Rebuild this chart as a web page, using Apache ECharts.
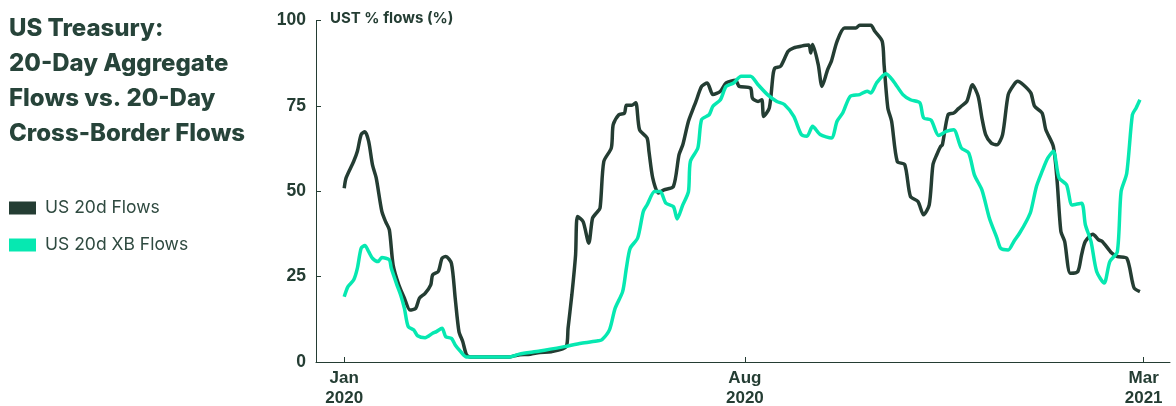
<!DOCTYPE html>
<html>
<head>
<meta charset="utf-8">
<script src="https://cdn.jsdelivr.net/npm/echarts@6/dist/echarts.min.js"></script>
<style>
  html, body { margin: 0; padding: 0; background: #fff; }
  #chart { width: 1176px; height: 406px; }
</style>
</head>
<body>
<div id="chart"></div>
<script>
// US 20d Flows
const flowDates = [
  '2020-01-01', '2020-01-02', '2020-01-06', '2020-01-08', '2020-01-10', '2020-01-12', '2020-01-14', '2020-01-16',
  '2020-01-18', '2020-01-21', '2020-01-23', '2020-01-25', '2020-01-27', '2020-01-30', '2020-02-02', '2020-02-05',
  '2020-02-08', '2020-02-10', '2020-02-13', '2020-02-16', '2020-02-17', '2020-02-20', '2020-02-22', '2020-02-24',
  '2020-02-27', '2020-02-29', '2020-03-02', '2020-03-04', '2020-03-06', '2020-03-08', '2020-03-29', '2020-04-02',
  '2020-04-09', '2020-04-14', '2020-04-20', '2020-04-28', '2020-04-29', '2020-05-01', '2020-05-03', '2020-05-04',
  '2020-05-07', '2020-05-10', '2020-05-12', '2020-05-14', '2020-05-16', '2020-05-18', '2020-05-22', '2020-05-23',
  '2020-05-26', '2020-05-29', '2020-05-30', '2020-06-02', '2020-06-04', '2020-06-06', '2020-06-10', '2020-06-11',
  '2020-06-13', '2020-06-16', '2020-06-19', '2020-06-24', '2020-06-27', '2020-06-29', '2020-07-02', '2020-07-05',
  '2020-07-06', '2020-07-09', '2020-07-12', '2020-07-15', '2020-07-19', '2020-07-22', '2020-07-27', '2020-07-29',
  '2020-08-04', '2020-08-05', '2020-08-08', '2020-08-10', '2020-08-11', '2020-08-14', '2020-08-16', '2020-08-17',
  '2020-08-20', '2020-08-24', '2020-08-27', '2020-08-31', '2020-09-04', '2020-09-05', '2020-09-06', '2020-09-09',
  '2020-09-11', '2020-09-14', '2020-09-16', '2020-09-19', '2020-09-23', '2020-09-29', '2020-10-01', '2020-10-07',
  '2020-10-09', '2020-10-13', '2020-10-14', '2020-10-16', '2020-10-18', '2020-10-21', '2020-10-25', '2020-10-28',
  '2020-11-01', '2020-11-04', '2020-11-07', '2020-11-09', '2020-11-11', '2020-11-13', '2020-11-14', '2020-11-17',
  '2020-11-20', '2020-11-22', '2020-11-24', '2020-11-27', '2020-11-30', '2020-12-03', '2020-12-05', '2020-12-07',
  '2020-12-10', '2020-12-13', '2020-12-16', '2020-12-19', '2020-12-22', '2020-12-24', '2020-12-27', '2020-12-31',
  '2021-01-02', '2021-01-06', '2021-01-08', '2021-01-12', '2021-01-14', '2021-01-16', '2021-01-18', '2021-01-21',
  '2021-01-25', '2021-01-27', '2021-01-29', '2021-02-02', '2021-02-05', '2021-02-07', '2021-02-12', '2021-02-15',
  '2021-02-20', '2021-02-23', '2021-02-24', '2021-02-27'
]
const flowValues = [
  50.9, 53.9, 58.7, 61.7, 66.6, 67.4, 64.6, 57.8,
  53.9, 44.1, 41.1, 38.7, 28.4, 22.6, 18.7, 15.2,
  15.7, 18.7, 20.1, 22.6, 25.5, 26.5, 30.4, 30.9,
  28.9, 18.7, 8.9, 6.0, 2.1, 1.5, 1.5, 2.0,
  2.3, 2.8, 3.0, 4.5, 9.9, 19.6, 31.4, 42.6,
  41.1, 34.8, 42.1, 43.6, 45.1, 58.7, 62.7, 69.5,
  72.4, 72.9, 75.2, 75.2, 75.9, 68.0, 65.6, 61.7,
  53.9, 49.5, 50.4, 51.4, 60.7, 63.6, 70.5, 74.9,
  76.3, 80.7, 81.7, 78.3, 79.3, 81.7, 82.5, 80.7,
  80.2, 77.3, 76.3, 76.8, 71.9, 74.4, 84.2, 86.1,
  86.6, 91.0, 92.0, 92.5, 92.8, 90.5, 93.0, 87.1,
  80.7, 85.6, 88.1, 93.9, 97.8, 97.8, 98.6, 98.6,
  96.9, 93.9, 87.1, 74.4, 70.5, 58.7, 57.8, 48.5,
  47.0, 43.1, 46.0, 57.8, 60.7, 63.1, 63.6, 72.4,
  72.9, 73.9, 74.9, 76.3, 81.2, 77.8, 71.5, 66.6,
  64.1, 63.6, 66.6, 78.3, 81.2, 82.2, 81.2, 78.8,
  74.9, 72.9, 68.0, 63.1, 52.9, 38.2, 35.3, 26.0,
  26.5, 31.4, 35.3, 37.4, 35.8, 35.3, 31.9, 30.9,
  30.4, 23.5, 21.6, 20.6
]

// US 20d XB Flows
const xbDates = [
  '2020-01-01', '2020-01-03', '2020-01-06', '2020-01-08', '2020-01-10', '2020-01-12', '2020-01-14', '2020-01-16',
  '2020-01-19', '2020-01-21', '2020-01-25', '2020-01-26', '2020-01-29', '2020-01-31', '2020-02-02', '2020-02-04',
  '2020-02-07', '2020-02-09', '2020-02-13', '2020-02-17', '2020-02-19', '2020-02-22', '2020-02-24', '2020-02-27',
  '2020-02-29', '2020-03-03', '2020-03-06', '2020-03-29', '2020-04-03', '2020-04-14', '2020-04-27', '2020-05-06',
  '2020-05-15', '2020-05-17', '2020-05-21', '2020-05-24', '2020-05-28', '2020-05-30', '2020-06-01', '2020-06-05',
  '2020-06-08', '2020-06-10', '2020-06-14', '2020-06-17', '2020-06-20', '2020-06-24', '2020-06-26', '2020-06-29',
  '2020-07-02', '2020-07-03', '2020-07-07', '2020-07-09', '2020-07-13', '2020-07-15', '2020-07-19', '2020-07-22',
  '2020-07-26', '2020-07-30', '2020-08-04', '2020-08-08', '2020-08-13', '2020-08-18', '2020-08-22', '2020-08-27',
  '2020-08-31', '2020-09-03', '2020-09-06', '2020-09-10', '2020-09-16', '2020-09-19', '2020-09-22', '2020-09-26',
  '2020-10-01', '2020-10-05', '2020-10-07', '2020-10-10', '2020-10-15', '2020-10-19', '2020-10-24', '2020-10-28',
  '2020-11-02', '2020-11-04', '2020-11-08', '2020-11-12', '2020-11-16', '2020-11-20', '2020-11-24', '2020-11-28',
  '2020-12-01', '2020-12-05', '2020-12-09', '2020-12-13', '2020-12-15', '2020-12-19', '2020-12-22', '2020-12-25',
  '2020-12-29', '2020-12-31', '2021-01-03', '2021-01-06', '2021-01-09', '2021-01-12', '2021-01-15', '2021-01-19',
  '2021-01-22', '2021-01-27', '2021-01-29', '2021-02-01', '2021-02-04', '2021-02-08', '2021-02-11', '2021-02-15',
  '2021-02-17', '2021-02-20', '2021-02-23', '2021-02-25', '2021-02-27'
]
const xbValues = [
  19.1, 22.1, 24.0, 27.5, 33.3, 34.1, 32.3, 30.4,
  29.4, 30.6, 29.9, 27.5, 22.6, 19.6, 15.7, 10.4,
  9.4, 7.7, 7.1, 8.4, 8.9, 9.9, 7.4, 6.9,
  5.0, 3.0, 1.5, 1.5, 2.3, 3.2, 4.5, 5.5,
  6.2, 6.5, 9.4, 15.7, 20.6, 27.5, 33.3, 36.3,
  44.1, 46.0, 49.9, 49.9, 46.5, 45.5, 41.9, 46.0,
  49.9, 58.7, 62.7, 71.0, 72.4, 74.9, 76.8, 80.7,
  81.7, 83.7, 83.7, 81.2, 78.3, 76.3, 75.4, 71.9,
  66.6, 66.1, 69.0, 66.6, 65.6, 70.5, 72.9, 77.8,
  78.3, 79.3, 78.8, 81.7, 84.4, 82.2, 78.3, 76.8,
  75.9, 71.5, 70.8, 66.3, 67.5, 68.0, 62.7, 61.2,
  54.8, 50.4, 42.1, 36.3, 33.3, 32.8, 35.3, 37.7,
  41.6, 44.1, 51.4, 55.8, 59.7, 61.7, 53.9, 51.9,
  46.0, 46.5, 40.2, 35.3, 26.5, 23.1, 29.4, 32.3,
  49.9, 55.3, 72.4, 74.4, 76.8
]

const xTickDates = ['2020-01-01', '2020-08-01', '2021-03-01']
const monthNames = ['Jan', 'Feb', 'Mar', 'Apr', 'May', 'Jun', 'Jul', 'Aug', 'Sep', 'Oct', 'Nov', 'Dec']

const dark = '#243d33'
const mint = '#06e8b1'

function toTime (d) {
  return +new Date(d + 'T00:00:00')
}

function pairs (dates, values) {
  return dates.map((d, i) => [toTime(d), values[i]])
}

const xTickValues = xTickDates.map(toTime)

var myChart = echarts.init(document.getElementById('chart'))

var option = {
  animation: false,
  title: {
    text: 'US Treasury:\n20-Day Aggregate\nFlows vs. 20-Day\nCross-Border Flows',
    left: 9,
    top: 11,
    padding: 0,
    textStyle: {
      fontFamily: 'Inter',
      fontWeight: 800,
      fontSize: 24,
      lineHeight: 35,
      color: '#27443a'
    }
  },
  legend: {
    orient: 'vertical',
    left: 9,
    top: 199,
    padding: 0,
    itemGap: 19,
    itemWidth: 27,
    itemHeight: 13,
    icon: 'rect',
    textStyle: {
      fontFamily: 'Inter',
      fontSize: 17.5,
      lineHeight: 18,
      color: '#2f4a40',
      padding: [0, 0, 0, 4]
    },
    data: ['US 20d Flows', 'US 20d XB Flows']
  },
  graphic: [
    {
      type: 'text',
      left: 330,
      top: 11,
      style: {
        text: 'UST % flows (%)',
        fontFamily: 'Inter',
        fontWeight: 'bold',
        fontSize: 15,
        fill: dark
      }
    }
  ],
  grid: {
    left: 316,
    right: 6,
    top: 20.5,
    bottom: 44,
    outerBoundsMode: 'none'
  },
  xAxis: {
    type: 'value',
    min: toTime('2019-12-17'),
    max: toTime('2021-03-15'),
    splitLine: { show: false },
    axisLine: { lineStyle: { color: dark, width: 1 } },
    axisTick: {
      show: true,
      inside: true,
      length: 5,
      customValues: xTickValues,
      lineStyle: { color: dark }
    },
    axisLabel: {
      customValues: xTickValues,
      margin: 6,
      fontFamily: 'Liberation Sans',
      fontWeight: 'bold',
      fontSize: 17,
      lineHeight: 20,
      color: dark,
      formatter: function (value) {
        var dt = new Date(value)
        return monthNames[dt.getMonth()] + '\n' + dt.getFullYear()
      }
    }
  },
  yAxis: {
    type: 'value',
    min: 0,
    max: 100,
    interval: 25,
    splitLine: { show: false },
    axisLine: { show: true, lineStyle: { color: dark, width: 1 } },
    axisTick: { show: true, inside: true, length: 5, lineStyle: { color: dark } },
    axisLabel: {
      margin: 10,
      fontFamily: 'Liberation Sans',
      fontWeight: 'bold',
      fontSize: 17.5,
      color: dark
    }
  },
  series: [
    {
      name: 'US 20d Flows',
      type: 'line',
      data: pairs(flowDates, flowValues),
      showSymbol: false,
      smooth: 0.25,
      color: dark,
      lineStyle: { width: 3.5, color: dark }
    },
    {
      name: 'US 20d XB Flows',
      type: 'line',
      data: pairs(xbDates, xbValues),
      showSymbol: false,
      smooth: 0.25,
      color: mint,
      lineStyle: { width: 3.5, color: mint }
    }
  ]
}

myChart.setOption(option)
</script>
</body>
</html>
